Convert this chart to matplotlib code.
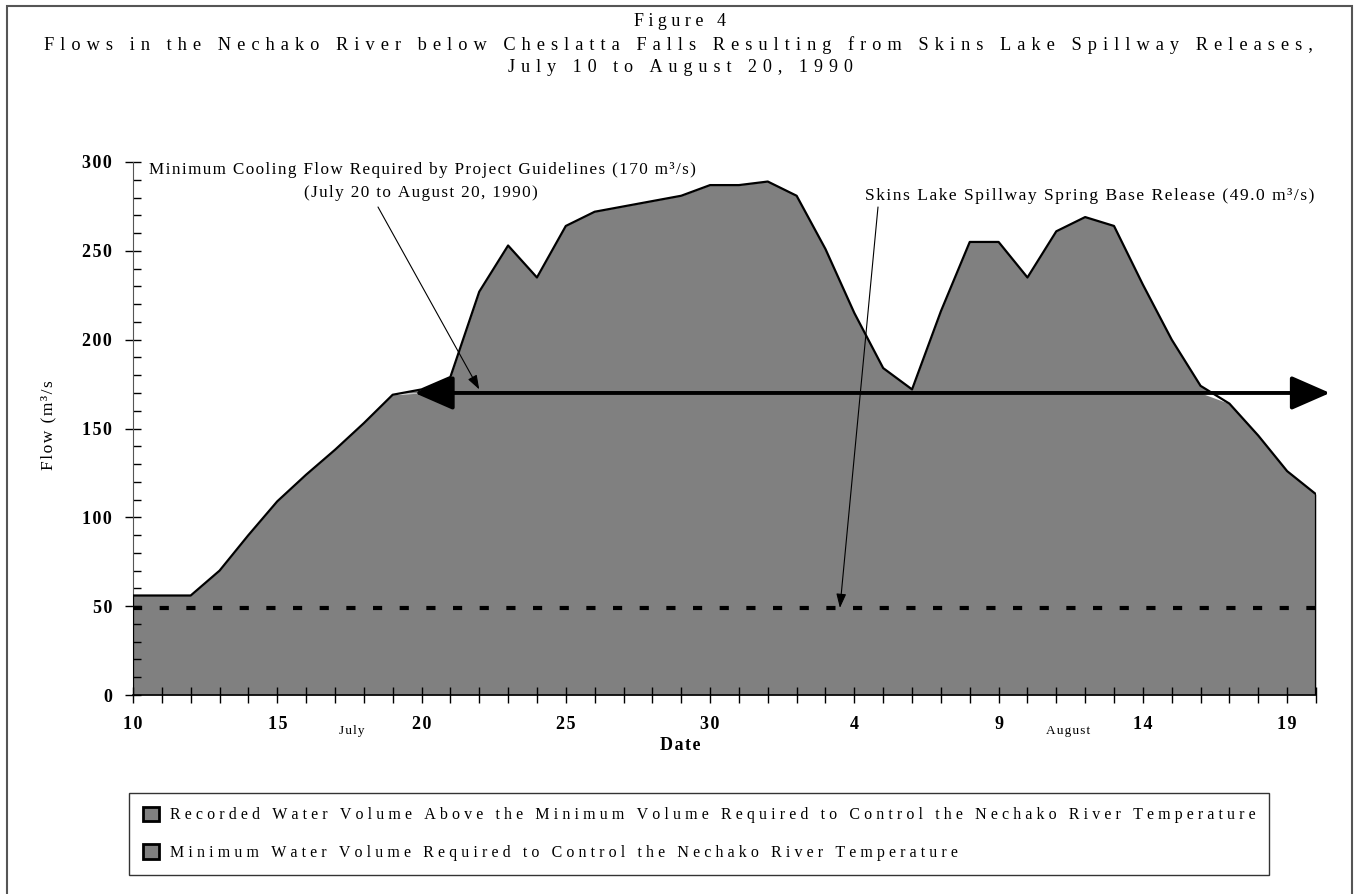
import numpy as np
import matplotlib.pyplot as plt
import matplotlib.transforms as mtransforms
from matplotlib.patches import Patch, Rectangle

plt.rcParams['font.family'] = ['Liberation Serif', 'DejaVu Serif']

# July 10 .. August 20, 1990 (one reading per day)
days = list(range(10, 32)) + list(range(1, 21))
flow = [56, 56, 56, 70, 90, 109, 124, 138, 153, 169,
        172, 179, 227, 253, 235, 264, 272, 275, 278, 281,
        287, 287, 289, 281, 251, 215, 184, 172, 216, 255,
        255, 235, 261, 269, 264, 231, 200, 174, 164, 146,
        126, 113]
min_cooling_flow = 170
base_release = 49.0
y_ticks = [0, 50, 100, 150, 200, 250, 300]

legend_labels = ['Recorded Water Volume Above the Minimum Volume Required to Control the Nechako River Temperature',
                 'Minimum Water Volume Required to Control the Nechako River Temperature']

W, H = 1358, 894
GREY = '#808080'


def fx(px):
    return px / W


def fy(py):
    return 1 - py / H


def spread(s, k):
    # the original text is letter spaced, fake it with hair spaces
    return ('\u200a' * k).join(s) if k else s


x = np.arange(len(days))
flow = np.array(flow)

fig = plt.figure(figsize=(W / 100, H / 100), dpi=100)
ax = fig.add_axes([fx(133), fy(695), fx(1316) - fx(133), fy(162) - fy(695)])

# the two volumes (both drawn grey in the original)
ax.fill_between(x, 0, np.minimum(flow, min_cooling_flow), color=GREY, lw=0)
ax.fill_between(x, min_cooling_flow, flow, where=flow > min_cooling_flow,
                interpolate=True, color=GREY, lw=0)
ax.plot(np.r_[x[0], x, x[-1]], np.r_[0, flow, 0], color='black', lw=1.6, zorder=3)

# spring base release
ax.hlines(base_release, x[0], x[-1], colors='black', lw=3,
          linestyles=(0, (2.2, 4.2)), zorder=4)

# minimum cooling flow period, July 20 onward (heads stick out a little past the dates)
start = x[days.index(20)]
left_end = mtransforms.offset_copy(ax.transData, fig=fig, x=-7, units='dots')
right_end = mtransforms.offset_copy(ax.transData, fig=fig, x=14, units='dots')
ax.annotate('', xy=(x[-1], min_cooling_flow), xycoords=right_end,
            xytext=(start, min_cooling_flow), textcoords=left_end,
            arrowprops=dict(arrowstyle='<|-|>,head_length=24,head_width=10.5',
                            mutation_scale=1, lw=2.8, color='black',
                            shrinkA=0, shrinkB=0),
            annotation_clip=False, zorder=5)

# callout arrows
ax.annotate('', xy=(start + 2, min_cooling_flow + 2), xytext=(fx(378), fy(207)),
            textcoords='figure fraction',
            arrowprops=dict(arrowstyle='-|>,head_length=0.86,head_width=0.3',
                            mutation_scale=10, lw=0.8, color='black',
                            shrinkA=0, shrinkB=0))
ax.annotate('', xy=(24.5, base_release), xytext=(fx(878), fy(207)),
            textcoords='figure fraction',
            arrowprops=dict(arrowstyle='-|>,head_length=0.86,head_width=0.3',
                            mutation_scale=10, lw=0.8, color='black',
                            shrinkA=0, shrinkB=0))

fig.text(fx(149), fy(170), spread('Minimum Cooling Flow Required by Project Guidelines (170 m³/s)', 1),
         ha='left', va='center', fontsize=12.3)
fig.text(fx(421), fy(193), spread('(July 20 to August 20, 1990)', 1),
         ha='center', va='center', fontsize=12.3)
fig.text(fx(1314), fy(196), spread('Skins Lake Spillway Spring Base Release (49.0 m³/s)', 1),
         ha='right', va='center', fontsize=12.6)

# axes
ax.set_xlim(x[0], x[-1])
ax.set_ylim(0, 300)
ax.set_xticks(x, minor=True)
ax.set_xticks(x[::5])
ax.set_xticklabels([spread(str(d), 1) for d in days[::5]], fontsize=13, fontweight='bold')
ax.set_yticks(y_ticks)
ax.set_yticks(range(0, 301, 10), minor=True)
ax.set_yticklabels([spread(str(v), 1) for v in y_ticks], fontsize=13, fontweight='bold')
ax.tick_params(axis='x', which='both', direction='inout', length=12, width=1, pad=9)
ax.tick_params(axis='y', which='major', direction='inout', length=12, width=1, pad=9)
ax.tick_params(axis='y', which='minor', direction='in', length=6, width=1)
for s in ['top', 'right']:
    ax.spines[s].set_visible(False)
ax.spines['left'].set_color('#555555')
ax.spines['bottom'].set_linewidth(1.2)
ax.set_facecolor('none')

fig.text(fx(680), fy(746), spread('Date', 1), ha='center', va='center', fontsize=13, fontweight='bold')
fig.text(fx(352), fy(731), spread('July', 1), ha='center', va='center', fontsize=9.5)
fig.text(fx(1068), fy(731), spread('August', 1), ha='center', va='center', fontsize=9.5)
fig.text(fx(48), fy(425), spread('Flow (m³/s', 1), rotation=90, ha='center', va='center', fontsize=12.5)

# titles
fig.text(fx(680), fy(22), spread('Figure 4', 3), ha='center', va='center', fontsize=13)
fig.text(fx(678), fy(45), spread('Flows in the Nechako River below Cheslatta Falls Resulting from Skins Lake Spillway Releases,', 4),
         ha='center', va='center', fontsize=13.2)
fig.text(fx(680), fy(68), spread('July 10 to August 20, 1990', 4), ha='center', va='center', fontsize=13)

# legend
handles = [Patch(facecolor=GREY, edgecolor='black', linewidth=2) for _ in legend_labels]
leg = fig.legend(handles, [spread(t, 3) for t in legend_labels], loc='upper left',
                 bbox_to_anchor=(fx(129), fy(793)), bbox_transform=fig.transFigure,
                 borderaxespad=0, fancybox=False, edgecolor='#333333', fontsize=11.5,
                 handlelength=1.05, handleheight=1.05, handletextpad=0.65,
                 labelspacing=1.3, borderpad=0.85, framealpha=1)
leg.get_frame().set_linewidth(1.0)

# page border
fig.add_artist(Rectangle((fx(7), -0.05), fx(1352) - fx(7), fy(6) + 0.05,
                         transform=fig.transFigure, fill=False, ec='#555555', lw=1.5))

fig.savefig('out.png', dpi=100)
